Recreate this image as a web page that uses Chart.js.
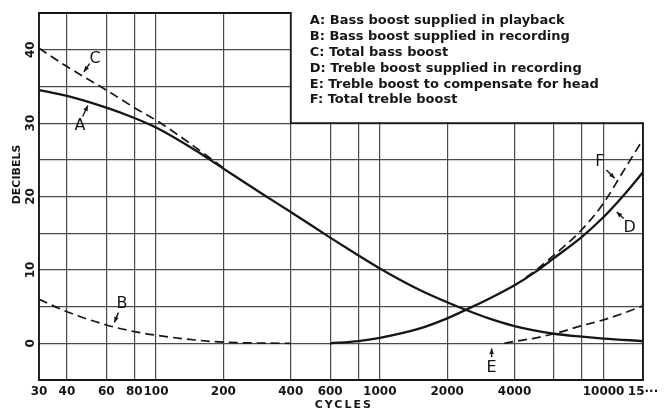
<!DOCTYPE html>
<html>
<head>
<meta charset="utf-8">
<script src="https://cdn.jsdelivr.net/npm/chart.js@4.4.1/dist/chart.umd.min.js"></script>
<style>
  html, body { margin: 0; padding: 0; background: #fff; }
  #wrap { width: 664px; height: 412px; }
</style>
</head>
<body>
<div id="wrap"><canvas id="eqChart" width="664" height="412"></canvas></div>
<script>
// grid frequencies (cycles) and the labels printed under them
const freqGrid = [30, 40, 60, 80, 100, 200, 400, 600, 800, 1000, 2000, 4000, 6000, 8000, 10000, 15000];
const freqLabels = ['30', '40', '60', '80', '100', '200', '400', '600', '', '1000', '2000', '4000', '', '', '10000', '15···'];
const dbLabels = [0, 10, 20, 30, 40];

// A: bass boost supplied in playback
const aFreq = [30, 40, 60, 80, 100, 150, 200, 300, 400, 600, 800, 1000, 1500, 2000, 2500, 3000, 4000, 6000, 8000, 10000, 15000];
const aDb   = [34.5, 33.7, 32.1, 30.7, 29.4, 26.3, 23.8, 20.3, 17.9, 14.4, 12.0, 10.2, 7.3, 5.6, 4.4, 3.5, 2.35, 1.3, 0.9, 0.65, 0.3];
// B: bass boost supplied in recording
const bFreq = [30, 40, 60, 80, 100, 150, 200, 300, 400];
const bDb   = [6.0, 4.3, 2.5, 1.6, 1.1, 0.45, 0.15, 0.03, 0];
// C: total bass boost
const cFreq = [30, 40, 60, 80, 100, 150, 200];
const cDb   = [40.2, 37.7, 34.5, 32.1, 30.4, 26.7, 23.9];
// D: treble boost supplied in recording
const dFreq = [600, 800, 1000, 1500, 2000, 2600, 3000, 4000, 5000, 6000, 8000, 10000, 12000, 15000];
const dDb   = [0, 0.3, 0.75, 2.0, 3.4, 5.0, 5.9, 7.9, 9.8, 11.6, 14.5, 17.2, 19.8, 23.3];
// E: treble boost to compensate for head
const eFreq = [3600, 4000, 5000, 6000, 8000, 10000, 12000, 15000];
const eDb   = [0, 0.25, 0.75, 1.3, 2.4, 3.2, 4.0, 5.1];
// F: total treble boost
const fFreq = [4500, 5000, 6000, 8000, 10000, 12000, 15000];
const fDb   = [9.0, 10.0, 12.0, 15.5, 19.1, 23.0, 27.8];

const legendLines = [
  'A: Bass boost supplied in playback',
  'B: Bass boost supplied in recording',
  'C: Total bass boost',
  'D: Treble boost supplied in recording',
  'E: Treble boost to compensate for head',
  'F: Total treble boost'
];

// curve letters: label position and arrow (tail -> tip), in cycles / dB
const callouts = [
  { text: 'A', at: [45.7, 29.6], from: [47, 30.9], to: [49.6, 32.4] },
  { text: 'C', at: [53.4, 38.8], from: [50.5, 38.1], to: [47.6, 37.0] },
  { text: 'B', at: [70.5, 5.4], from: [67.9, 4.2], to: [65.2, 2.85] },
  { text: 'F', at: [9612, 24.7], from: [10280, 23.6], to: [11210, 22.5] },
  { text: 'D', at: [13080, 15.7], from: [12300, 17.0], to: [11440, 17.9] },
  { text: 'E', at: [3160, -3.4], from: [3160, -1.9], to: [3160, -0.7] }
];

const INK = '#161616';
const pts = (xs, ys) => xs.map((v, i) => ({ x: v, y: ys[i] }));

function curve(label, xs, ys, dashed) {
  return {
    label: label,
    data: pts(xs, ys),
    borderColor: INK,
    borderWidth: dashed ? 1.7 : 2.3,
    borderDash: dashed ? [9, 5] : [],
    pointRadius: 0,
    fill: false,
    cubicInterpolationMode: 'monotone'
  };
}

function arrow(ctx, x1, y1, x2, y2) {
  const a = Math.atan2(y2 - y1, x2 - x1);
  ctx.beginPath();
  ctx.moveTo(x1, y1);
  ctx.lineTo(x2, y2);
  ctx.stroke();
  ctx.beginPath();
  ctx.moveTo(x2, y2);
  ctx.lineTo(x2 - 6 * Math.cos(a - 0.4), y2 - 6 * Math.sin(a - 0.4));
  ctx.lineTo(x2 - 6 * Math.cos(a + 0.4), y2 - 6 * Math.sin(a + 0.4));
  ctx.closePath();
  ctx.fill();
}

const inkPlugin = {
  id: 'ink',
  beforeDatasetsDraw(chart) {
    const { ctx, chartArea: ca, scales: { x, y } } = chart;
    const xCut = x.getPixelForValue(400);
    const yCut = y.getPixelForValue(30);
    ctx.save();
    // corner left open for the key
    ctx.fillStyle = '#fff';
    ctx.fillRect(xCut + 1, 0, chart.width - xCut, yCut - 1);
    ctx.strokeStyle = INK;
    ctx.lineWidth = 1.8;
    ctx.beginPath();
    ctx.moveTo(ca.left, ca.top);
    ctx.lineTo(xCut, ca.top);
    ctx.lineTo(xCut, yCut);
    ctx.lineTo(ca.right, yCut);
    ctx.lineTo(ca.right, ca.bottom);
    ctx.lineTo(ca.left, ca.bottom);
    ctx.closePath();
    ctx.stroke();
    ctx.restore();
  },
  afterDraw(chart) {
    const { ctx, chartArea: ca, scales: { x, y } } = chart;
    ctx.save();
    ctx.fillStyle = INK;
    ctx.strokeStyle = INK;

    // rotated dB labels
    ctx.font = 'bold 12px "DejaVu Sans"';
    ctx.textAlign = 'center';
    ctx.textBaseline = 'middle';
    dbLabels.forEach(v => {
      ctx.save();
      ctx.translate(ca.left - 8, y.getPixelForValue(v));
      ctx.rotate(-Math.PI / 2);
      ctx.fillText(String(v), 0, 0);
      ctx.restore();
    });

    // axis titles
    ctx.font = 'bold 11px "DejaVu Sans"';
    ctx.save();
    ctx.translate(17, y.getPixelForValue(23));
    ctx.rotate(-Math.PI / 2);
    ctx.fillText('DECIBELS', 0, 0);
    ctx.restore();
    ctx.letterSpacing = '2px';
    ctx.fillText('CYCLES', x.getPixelForValue(690), 405);
    ctx.letterSpacing = '0px';

    // key
    const keyX = x.getPixelForValue(400) + 19;
    ctx.font = 'bold 13px "DejaVu Sans"';
    ctx.textAlign = 'left';
    legendLines.forEach((t, i) => ctx.fillText(t, keyX, 21 + i * 15.8));

    // curve letters with arrows
    ctx.font = '16px "DejaVu Sans"';
    ctx.textAlign = 'center';
    ctx.lineWidth = 1.4;
    callouts.forEach(c => {
      ctx.fillText(c.text, x.getPixelForValue(c.at[0]), y.getPixelForValue(c.at[1]));
      arrow(ctx,
        x.getPixelForValue(c.from[0]), y.getPixelForValue(c.from[1]),
        x.getPixelForValue(c.to[0]), y.getPixelForValue(c.to[1]));
    });
    ctx.restore();
  }
};

new Chart(document.getElementById('eqChart'), {
  type: 'line',
  data: {
    datasets: [
      curve('B', bFreq, bDb, true),
      curve('C', cFreq, cDb, true),
      curve('E', eFreq, eDb, true),
      curve('F', fFreq, fDb, true),
      curve('A', aFreq, aDb, false),
      curve('D', dFreq, dDb, false)
    ]
  },
  options: {
    responsive: false,
    animation: false,
    layout: { padding: { top: 13, right: 21, left: 0, bottom: 0 }, autoPadding: false },
    plugins: { legend: { display: false }, tooltip: { enabled: false } },
    scales: {
      x: {
        type: 'logarithmic',
        min: 30,
        max: 15000,
        afterBuildTicks: s => { s.ticks = freqGrid.map(v => ({ value: v })); },
        afterFit: s => { s.height = 32; },
        grid: { color: '#4a4a4a', lineWidth: 1.2, drawTicks: false },
        border: { display: false },
        ticks: {
          autoSkip: false,
          maxRotation: 0,
          minRotation: 0,
          padding: 5,
          color: INK,
          font: { family: 'DejaVu Sans', weight: 'bold', size: 12 },
          callback: (v, i) => freqLabels[i]
        }
      },
      y: {
        min: -5,
        max: 45,
        afterFit: s => { s.width = 39; },
        grid: { color: '#4a4a4a', lineWidth: 1.2, drawTicks: false },
        border: { display: false },
        ticks: { display: false, stepSize: 5 }
      }
    }
  },
  plugins: [inkPlugin]
});
</script>
</body>
</html>
